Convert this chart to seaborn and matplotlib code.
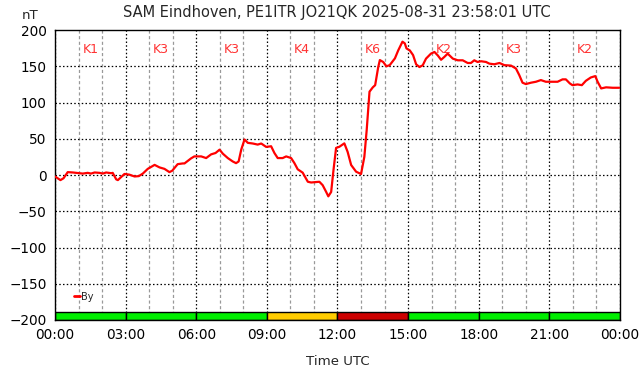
import pandas as pd
import seaborn as sns
import matplotlib.pyplot as plt

# By component, hours UTC vs nT
hours = [0.0, 0.23, 0.36, 0.54, 0.76, 1.18, 1.39, 1.53, 1.68, 1.89, 2.03, 2.17, 2.39, 2.45,
         2.6, 2.67, 2.95, 3.16, 3.38, 3.56, 3.73, 3.94, 4.23, 4.44, 4.65, 4.86, 4.98,
         5.21, 5.43, 5.5, 5.78, 5.92, 6.21, 6.42, 6.63, 6.82, 6.99, 7.13, 7.34, 7.55,
         7.69, 7.8, 7.91, 8.05, 8.19, 8.4, 8.61, 8.76, 8.97, 9.18, 9.32, 9.46, 9.67,
         9.82, 10.03, 10.17, 10.31, 10.52, 10.74, 10.88, 11.23, 11.37, 11.52, 11.61,
         11.73, 11.83, 11.94, 12.08, 12.29, 12.43, 12.58, 12.79, 13.0, 13.14, 13.24,
         13.36, 13.5, 13.6, 13.73, 13.8, 13.94, 14.08, 14.22, 14.44, 14.58, 14.76,
         14.86, 14.93, 15.07, 15.21, 15.34, 15.48, 15.62, 15.76, 15.97, 16.12, 16.26,
         16.4, 16.54, 16.68, 16.9, 17.11, 17.32, 17.53, 17.67, 17.81, 17.95, 18.1,
         18.31, 18.45, 18.66, 18.88, 19.09, 19.37, 19.58, 19.72, 19.86, 20.0, 20.22,
         20.43, 20.64, 20.85, 21.14, 21.35, 21.56, 21.7, 21.87, 21.98, 22.2, 22.38,
         22.55, 22.76, 22.95, 23.05, 23.2, 23.41, 23.69, 23.97]
by_nt = [-2, -7, -4.5, 4, 3.5, 2, 3, 2, 3.5, 3, 2, 3.5, 2.5, 3,
         -6, -7, 1.5, 0.5, -2, -1.5, 2, 8.5, 14, 10.5, 8.5, 4, 6,
         15, 16, 16, 23, 25.7, 25.7, 23.4, 28.5, 30.4, 35, 29.4, 23.4, 18.7,
         16.4, 18.7, 35, 49, 44.4, 43.5, 42, 43.5, 38.8, 39.7, 30.4, 23.4, 23.4,
         25.7, 23.4, 16.4, 7.9, 3.3, -9.3, -10.3, -9.3, -14, -23.4, -29.4,
         -23.4, 7, 37.4, 39, 43.7, 32, 13.8, 4.6, 1.4, 25, 62,
         115, 121, 124, 149, 158.6, 156, 150, 151.7, 161, 172, 184,
         181.6, 174.7, 172, 165.5, 152.8, 149, 151.4, 160.6, 167.5, 169.8, 165,
         159, 163, 167.5, 160.6, 158.3, 158.3, 154.6, 154.6, 158.3, 156, 157,
         156, 153.7, 152.8, 154.6, 151.6, 151, 147, 138, 127.4, 125.5, 127.4,
         128.7, 131, 128.7, 128.7, 128.7, 132, 132, 126.4, 124, 125, 124,
         130, 134.6, 136.5, 128.7, 119.5, 121, 120.4, 120.4]

# K index per 3-hour block
k_index = [1, 3, 3, 4, 6, 2, 3, 2]
block_start = [0, 3, 6, 9, 12, 15, 18, 21]

tick_hours = [0, 3, 6, 9, 12, 15, 18, 21, 24]
tick_labels = ['00:00', '03:00', '06:00', '09:00', '12:00', '15:00', '18:00', '21:00', '00:00']

df = pd.DataFrame({'hour': hours, 'By': by_nt})

sns.set_style('white')
plt.rcParams['font.family'] = ['DejaVu Sans']

fig = plt.figure(figsize=(6.42, 3.76), dpi=100)
ax = fig.add_axes([0.0857, 0.149, 0.88, 0.771])

# grid first so the data sits on top
for h in range(25):
    if h % 3 == 0:
        ax.axvline(h, color='black', lw=0.9, ls=(0, (1.2, 1.8)), zorder=1)
    else:
        ax.axvline(h, color='#999999', lw=0.9, ls=(0, (2.5, 2)), zorder=1)
for v in range(-150, 200, 50):
    ax.axhline(v, color='black', lw=0.9, ls=(0, (1.2, 1.8)), zorder=1)

def k_color(k):
    if k >= 5:
        return '#cc0000'
    if k == 4:
        return '#ffcc00'
    return '#00ee00'

ax.bar([s + 1.5 for s in block_start], [11] * len(k_index), bottom=-200, width=3,
       color=[k_color(k) for k in k_index], edgecolor='black', linewidth=1, zorder=2)

sns.lineplot(data=df, x='hour', y='By', color='#ff0000', lw=1.6, ax=ax, label='By', zorder=3)

for s, k in zip(block_start, k_index):
    ax.text(s + 1.5, 173, f'K{k}', color='#ff3333', ha='center', va='center', fontsize=9)

ax.set_xlim(0, 24)
ax.set_ylim(-200, 200)
ax.set_xticks(tick_hours)
ax.set_xticklabels(tick_labels)
ax.set_yticks(range(-200, 201, 50))
ax.tick_params(length=0, labelsize=9.8, pad=6, colors='black')
ax.set_xlabel('Time UTC', fontsize=9.6, labelpad=9)
ax.set_ylabel('')
for sp in ax.spines.values():
    sp.set_color('black')
    sp.set_linewidth(1)

leg = ax.legend(loc='lower left', bbox_to_anchor=(0.016, 0.03), frameon=False, fontsize=7,
                handlelength=0.6, handletextpad=0.1, borderaxespad=0.6)
for line in leg.get_lines():
    line.set_linewidth(2)

fig.text(0.525, 0.968, 'SAM Eindhoven, PE1ITR JO21QK 2025-08-31 23:58:01 UTC',
         ha='center', va='center', fontsize=10.5)
fig.text(0.047, 0.958, 'nT', ha='center', va='center', fontsize=9.6)

fig.savefig('out.png', dpi=100)
